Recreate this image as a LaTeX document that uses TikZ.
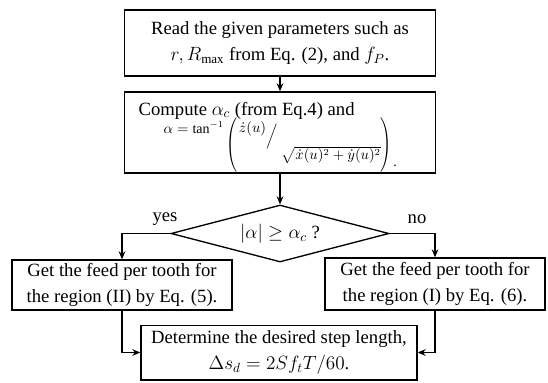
\documentclass[tikz,border=0pt]{standalone}
\usepackage{amsmath, amssymb}
\usepackage{graphicx}
\usepackage{fontspec}
\setmainfont{Liberation Serif}
\usepackage{tikz}
\usetikzlibrary{arrows.meta, positioning, shapes.geometric}
% tall paren for the slashed fraction
\newcommand\tallparen[1]{\raisebox{-12.4pt}{\scalebox{1}[1.3]{$\left#1\vphantom{\rule[-12.9pt]{0pt}{31pt}}\right.$}}}

\begin{document}
\begin{tikzpicture}[x=0.75pt, y=-0.75pt, line width=1pt,
    font=\fontsize{14}{19}\selectfont,
    procbox/.style={draw, rectangle, inner sep=2pt, align=center},
    decbox/.style={draw, diamond, aspect=3.9, inner sep=0pt,
      minimum width=163.5pt, minimum height=42.75pt},
    flow/.style={-{Stealth[length=6pt, width=5pt]}}]
  \useasboundingbox (0,0) rectangle (548,382);
  % --- top: input parameters ---
  \node[procbox, minimum width=233pt, minimum height=49.5pt] (read) at (280,43)
    {Read the given parameters such as\\ $r, R_{\max}$ from Eq. (2), and $f_{P}$.};
  % --- angle computation: box, then its two lines set inside ---
  \node[procbox, minimum width=233pt, minimum height=60.75pt] (comp) at (280,132.5) {};
  \node[anchor=base west, inner sep=0pt] (comptxt) at (138,115)
    {Compute $\alpha_{c}$ (from Eq.4) and};
  \node[anchor=base west, inner sep=0pt, font=\fontsize{10.5}{12}\selectfont] (compeq) at (163,133)
    {$\alpha = \tan^{-1}$\,\tallparen{(}\raisebox{0.5pt}{$\dot z(u)$}%
     \raisebox{-5.5pt}{$\Big/$}\hspace{3pt}%
     \raisebox{-20pt}{$\sqrt{\dot x(u)^{2} + \dot y(u)^{2}}$}%
     \tallparen{)}\raisebox{-25pt}{.}};
  % --- decision ---
  \node[decbox] (dec) at (280,233.5) {$|\alpha| \geq \alpha_{c}$ ?};
  % --- two branches ---
  \node[procbox, minimum width=165pt, minimum height=37.5pt] (regII) at (122,285)
    {Get the feed per tooth for\\ the region (II) by Eq. (5).};
  \node[procbox, minimum width=165pt, minimum height=39pt] (regI) at (435,284)
    {Get the feed per tooth for\\ the region (I) by Eq. (6).};
  % --- result ---
  \node[procbox, minimum width=207pt, minimum height=41pt] (step) at (279,352.5)
    {Determine the desired step length,\\ $\Delta s_{d} = 2Sf_{t}T/60$.};
  % --- branch labels ---
  \node (yes) at (165,219) {yes};
  \node (no) at (417,219) {no};
  % --- connectors ---
  \draw[flow] (read) -- (comp);
  \draw[flow] (comp) -- (dec);
  \draw[flow] (dec.west) -| (regII.north);
  \draw[flow] (dec.east) -| (regI.north);
  \draw[flow] (regII.south) |- (step.west);
  \draw[flow] (regI.south) |- (step.east);
\end{tikzpicture}
\end{document}
